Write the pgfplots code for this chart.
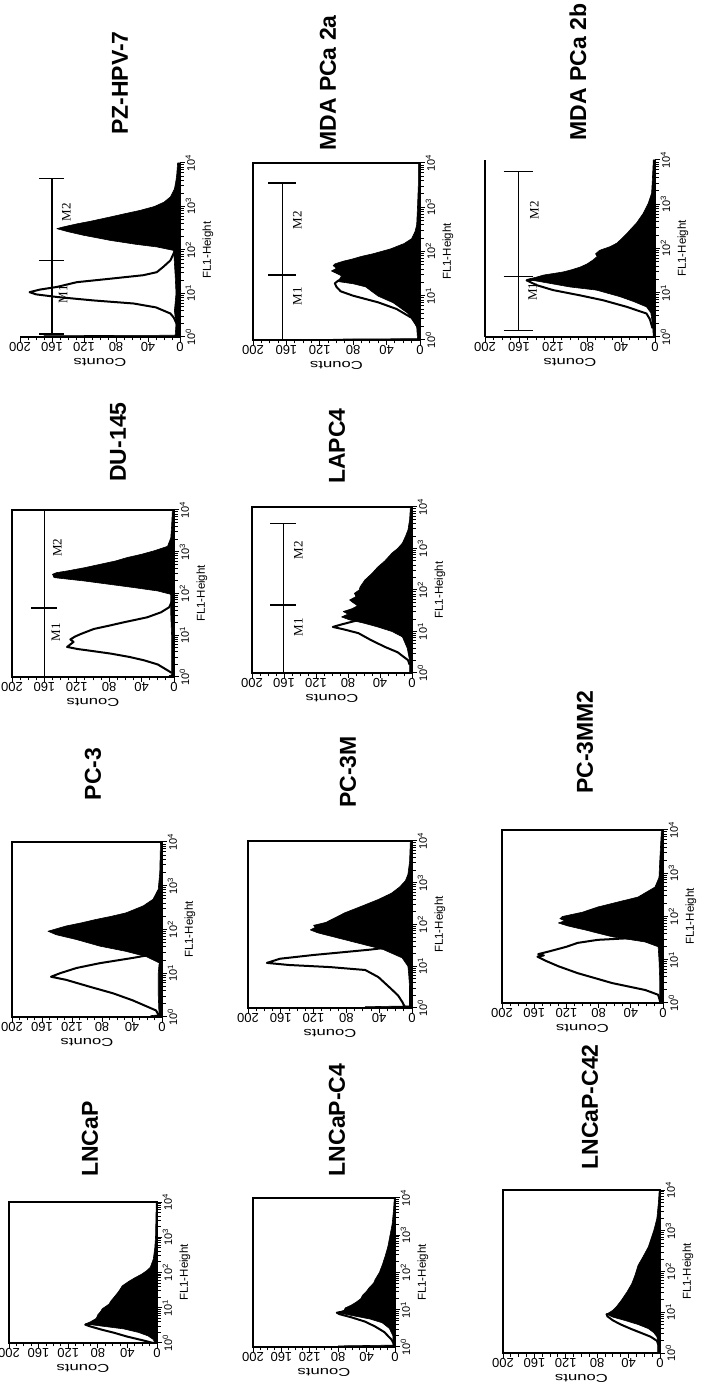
\documentclass[border=0pt]{standalone}
\usepackage{fontspec}
\setmainfont{Liberation Sans}
\newfontfamily\mfont{Liberation Serif}
\usepackage{pgfplots}
\pgfplotsset{compat=1.18}
\pgfplotsset{
  facs/.style={
    scale only axis,
    xmin=-200, xmax=0, ymin=0, ymax=4,
    xtick={-200,-160,-120,-80,-40,0},
    xticklabels={200,160,120,80,40,0},
    minor x tick num=3,
    ytick={0,1,2,3,4},
    yticklabels={10\textsuperscript{0},10\textsuperscript{1},10\textsuperscript{2},10\textsuperscript{3},10\textsuperscript{4}},
    minor ytick={0.301,0.477,0.602,0.699,0.778,0.845,0.903,0.954,
      1.301,1.477,1.602,1.699,1.778,1.845,1.903,1.954,
      2.301,2.477,2.602,2.699,2.778,2.845,2.903,2.954,
      3.301,3.477,3.602,3.699,3.778,3.845,3.903,3.954},
    xtick pos=left, ytick pos=right,
    tick align=outside,
    major tick length=5pt, minor tick length=3.5pt,
    every tick/.style={black, line width=1pt},
    axis line style={-, line width=1.6pt},
    x tick label style={rotate=180, anchor=south, font=\fontsize{13}{13}\selectfont, inner sep=0.5pt},
    y tick label style={rotate=90, anchor=north, font=\fontsize{11}{11}\selectfont, inner sep=0.5pt},
    clip=false,
  },
  test/.style={fill=black, draw=black, line width=0.6pt, mark=none, line join=round},
  ctrl/.style={draw=black, line width=2pt, mark=none, line join=round},
  mline/.style={black, line width=1.3pt, mark=none},
}
\newcommand{\axlabels}{%
  \node[rotate=180, xscale=1.45, font=\fontsize{11.5}{11.5}\selectfont] at ([yshift=-25pt]axis description cs:0.5,0) {Counts};
  \node[rotate=90, font=\fontsize{11.5}{11.5}\selectfont] at ([xshift=28pt]axis description cs:1,0.5) {FL1-Height};
}
\newcommand{\ttl}[3]{\node[rotate=90, font=\bfseries\fontsize{23}{23}\selectfont] at (#1pt,#2pt) {#3};}

\begin{document}
\begin{tikzpicture}[x=1pt,y=1pt]
\path[use as bounding box, fill=white] (0pt,0pt) rectangle (705pt,1384pt);

% ---------------- titles ----------------
\ttl{120}{1301}{PZ-HPV-7}
\ttl{328}{1301}{MDA PCa 2a}
\ttl{578}{1312}{MDA PCa 2b}
\ttl{118}{942}{DU-145}
\ttl{337}{938}{LAPC4}
\ttl{93}{610}{PC-3}
\ttl{348}{612}{PC-3M}
\ttl{585}{642}{PC-3MM2}
\ttl{90}{245}{LNCaP}
\ttl{337}{264}{LNCaP-C4}
\ttl{590}{277}{LNCaP-C42}

% ---------------- PZ-HPV-7 ----------------
\begin{axis}[facs, at={(20pt,1047pt)}, anchor=south west, width=160pt, height=174pt,
  axis x line*=bottom, axis y line*=right]
\addplot[test] table[x expr=-\thisrow{c}, y=l, row sep=\\]{c l\\ 0 0\\ 170 0\\ 170 0.03\\ 6 0.04\\ 5 0.3\\ 7 0.6\\ 5 1.0\\ 6 1.4\\ 7 1.7\\ 8 1.99\\ 29 2.07\\ 55 2.13\\ 87 2.22\\ 121 2.34\\ 140 2.42\\ 154 2.49\\ 146 2.53\\ 129 2.6\\ 112 2.66\\ 87 2.76\\ 70 2.83\\ 50 2.91\\ 32 3.0\\ 20 3.1\\ 12 3.22\\ 7 3.4\\ 5 3.6\\ 4 3.75\\ 3 4.0\\ 0 4.0\\};
\addplot[ctrl] table[x expr=-\thisrow{c}, y=l, row sep=\\]{c l\\ 3 0.0\\ 4 0.3\\ 8 0.45\\ 12 0.54\\ 30 0.68\\ 58 0.77\\ 108 0.84\\ 154 0.92\\ 180 0.98\\ 188 1.03\\ 175 1.09\\ 154 1.15\\ 129 1.26\\ 87 1.34\\ 46 1.42\\ 29 1.49\\ 21 1.61\\ 12 1.76\\ 8 1.92\\ 4 2.05\\ 2 2.3\\};
\addplot[mline] coordinates {(-160,0.07) (-160,3.64)};
\addplot[mline] coordinates {(-176,3.64) (-145,3.64)};
\addplot[mline] coordinates {(-176,1.76) (-145,1.76)};
\addplot[mline] coordinates {(-176,0.07) (-145,0.07)};
\node[rotate=90, font=\mfont\fontsize{13}{13}\selectfont] at (axis cs:-146,0.98) {M1};
\node[rotate=90, font=\mfont\fontsize{13}{13}\selectfont] at (axis cs:-142,2.87) {M2};
\axlabels
\end{axis}

% ---------------- MDA PCa 2a ----------------
\begin{axis}[facs, at={(253pt,1044pt)}, anchor=south west, width=167pt, height=177pt]
\addplot[test] table[x expr=-\thisrow{c}, y=l, row sep=\\]{c l\\ 0 0\\ 104 0\\ 104 0.02\\ 3 0.03\\ 4 0.3\\ 8 0.45\\ 15 0.61\\ 32 0.84\\ 50 0.99\\ 58 1.1\\ 65 1.2\\ 80 1.27\\ 98 1.32\\ 94 1.45\\ 106 1.56\\ 100 1.62\\ 104 1.68\\ 102 1.72\\ 92 1.78\\ 81 1.83\\ 70 1.89\\ 56 1.95\\ 35 2.06\\ 19 2.18\\ 10 2.29\\ 6 2.45\\ 4 2.6\\ 3 3.0\\ 2 3.5\\ 2 4\\ 0 4\\};
\addplot[ctrl] table[x expr=-\thisrow{c}, y=l, row sep=\\]{c l\\ 3 0.3\\ 10 0.5\\ 28 0.7\\ 50 0.85\\ 80 1.0\\ 95 1.1\\ 100 1.2\\ 102 1.28\\ 98 1.34\\ 90 1.42\\ 78 1.5\\ 60 1.6\\ 40 1.7\\ 25 1.8\\ 12 1.9\\ 5 2.0\\ 2 2.2\\};
\addplot[mline] coordinates {(-165,0) (-165,3.55)};
\addplot[mline] coordinates {(-182,3.55) (-148,3.55)};
\addplot[mline] coordinates {(-182,1.47) (-148,1.47)};
\node[rotate=90, font=\mfont\fontsize{13}{13}\selectfont] at (axis cs:-147,0.99) {M1};
\node[rotate=90, font=\mfont\fontsize{13}{13}\selectfont] at (axis cs:-147,2.71) {M2};
\axlabels
\end{axis}

% ---------------- MDA PCa 2b ----------------
\begin{axis}[facs, at={(485pt,1047pt)}, anchor=south west, width=170pt, height=177pt,
  axis x line*=bottom, axis y line*=right]
\draw[line width=1.6pt] (axis cs:-200,0) -- (axis cs:-200,4);
\addplot[test] table[x expr=-\thisrow{c}, y=l, row sep=\\]{c l\\ 0 0\\ 2 0.0\\ 3 0.3\\ 5 0.55\\ 10 0.68\\ 25 0.8\\ 41 0.91\\ 69 1.06\\ 100 1.13\\ 135 1.25\\ 151 1.30\\ 140 1.35\\ 131 1.40\\ 108 1.47\\ 98 1.52\\ 88 1.58\\ 80 1.65\\ 73 1.74\\ 68 1.82\\ 70 1.88\\ 65 1.96\\ 53 2.04\\ 45 2.12\\ 41 2.19\\ 33 2.34\\ 28 2.45\\ 22 2.57\\ 14 2.79\\ 8 3.02\\ 4 3.25\\ 3 3.6\\ 2 4\\ 0 4\\};
\addplot[ctrl] table[x expr=-\thisrow{c}, y=l, row sep=\\]{c l\\ 3 0.2\\ 6 0.4\\ 10 0.53\\ 33 0.68\\ 61 0.83\\ 88 0.94\\ 120 1.06\\ 139 1.17\\ 151 1.28\\ 120 1.35\\ 80 1.42\\ 45 1.5\\ 20 1.6\\ 8 1.75\\ 3 1.9\\};
\addplot[mline] coordinates {(-161,0.15) (-161,3.74)};
\addplot[mline] coordinates {(-178,3.74) (-144,3.74)};
\addplot[mline] coordinates {(-178,1.36) (-144,1.36)};
\addplot[mline] coordinates {(-178,0.15) (-144,0.15)};
\node[rotate=90, font=\mfont\fontsize{13}{13}\selectfont] at (axis cs:-144,1.02) {M1};
\node[rotate=90, font=\mfont\fontsize{13}{13}\selectfont] at (axis cs:-142,2.87) {M2};
\axlabels
\end{axis}

% ---------------- DU-145 ----------------
\begin{axis}[facs, at={(12pt,707pt)}, anchor=south west, width=162pt, height=167pt]
\addplot[test] table[x expr=-\thisrow{c}, y=l, row sep=\\]{c l\\ 0 0\\ 6 0.0\\ 6 0.03\\ 3 0.05\\ 3 1.0\\ 4 1.5\\ 4 1.98\\ 20 2.06\\ 49 2.14\\ 80 2.22\\ 111 2.3\\ 148 2.38\\ 150 2.46\\ 145 2.5\\ 132 2.54\\ 110 2.62\\ 91 2.7\\ 72 2.78\\ 58 2.86\\ 40 2.94\\ 25 3.02\\ 8 3.13\\ 4 3.33\\ 3 3.6\\ 2 4\\ 0 4\\};
\addplot[ctrl] table[x expr=-\thisrow{c}, y=l, row sep=\\]{c l\\ 3 0.1\\ 8 0.16\\ 20 0.3\\ 37 0.4\\ 55 0.48\\ 78 0.56\\ 100 0.62\\ 119 0.67\\ 132 0.72\\ 128 0.78\\ 124 0.84\\ 128 0.9\\ 122 0.97\\ 115 1.03\\ 99 1.15\\ 80 1.23\\ 62 1.31\\ 45 1.38\\ 33 1.43\\ 16 1.55\\ 6 1.67\\ 2 1.83\\ 1 2.0\\};
\addplot[mline] coordinates {(-160,0) (-160,4)};
\addplot[mline] coordinates {(-176,1.65) (-145,1.65)};
\node[rotate=90, font=\mfont\fontsize{13}{13}\selectfont] at (axis cs:-146,1.07) {M1};
\node[rotate=90, font=\mfont\fontsize{13}{13}\selectfont] at (axis cs:-144,3.1) {M2};
\axlabels
\end{axis}

% ---------------- LAPC4 ----------------
\begin{axis}[facs, at={(252pt,711pt)}, anchor=south west, width=160pt, height=166pt]
\addplot[test] table[x expr=-\thisrow{c}, y=l, row sep=\\]{c l\\ 0 0\\ 3 0.0\\ 3 0.3\\ 6 0.6\\ 12 0.87\\ 25 1.0\\ 43 1.11\\ 60 1.2\\ 78 1.28\\ 88 1.35\\ 80 1.42\\ 86 1.48\\ 75 1.55\\ 68 1.62\\ 74 1.7\\ 78 1.76\\ 70 1.84\\ 72 1.92\\ 66 2.0\\ 65 2.07\\ 59 2.24\\ 50 2.4\\ 43 2.55\\ 34 2.7\\ 25 2.89\\ 18 3.0\\ 12 3.13\\ 8 3.3\\ 5 3.45\\ 3 3.7\\ 2 4\\ 0 4\\};
\addplot[ctrl] table[x expr=-\thisrow{c}, y=l, row sep=\\]{c l\\ 3 0.2\\ 5 0.31\\ 18 0.5\\ 34 0.63\\ 52 0.8\\ 67 0.96\\ 85 1.05\\ 99 1.11\\ 88 1.17\\ 72 1.25\\ 58 1.35\\ 40 1.48\\ 20 1.65\\ 8 1.85\\ 3 2.0\\};
\addplot[mline] coordinates {(-161,0) (-161,3.61)};
\addplot[mline] coordinates {(-177,3.61) (-145,3.61)};
\addplot[mline] coordinates {(-177,1.64) (-145,1.64)};
\node[rotate=90, font=\mfont\fontsize{13}{13}\selectfont] at (axis cs:-142,1.1) {M1};
\node[rotate=90, font=\mfont\fontsize{13}{13}\selectfont] at (axis cs:-142,2.96) {M2};
\axlabels
\end{axis}

% ---------------- PC-3 ----------------
\begin{axis}[facs, at={(12pt,367pt)}, anchor=south west, width=150pt, height=175pt]
\addplot[test] table[x expr=-\thisrow{c}, y=l, row sep=\\]{c l\\ 0 0\\ 15 0\\ 15 0.03\\ 4 0.05\\ 5 0.5\\ 5 1.0\\ 4 1.2\\ 3 1.23\\ 21 1.38\\ 48 1.5\\ 83 1.62\\ 114 1.77\\ 141 1.88\\ 152 1.96\\ 140 2.02\\ 128 2.08\\ 108 2.15\\ 88 2.23\\ 68 2.3\\ 48 2.38\\ 25 2.54\\ 12 2.69\\ 5 2.92\\ 3 3.3\\ 2 4\\ 0 4\\};
\addplot[ctrl] table[x expr=-\thisrow{c}, y=l, row sep=\\]{c l\\ 3 0.0\\ 8 0.15\\ 39 0.38\\ 65 0.54\\ 96 0.69\\ 128 0.85\\ 148 0.92\\ 136 1.0\\ 114 1.12\\ 83 1.23\\ 39 1.35\\ 16 1.42\\ 8 1.54\\ 3 1.69\\ 1 1.9\\};
\axlabels
\end{axis}

% ---------------- PC-3M ----------------
\begin{axis}[facs, at={(248pt,376pt)}, anchor=south west, width=164pt, height=167pt]
\addplot[test] table[x expr=-\thisrow{c}, y=l, row sep=\\]{c l\\ 0 0\\ 57 0\\ 57 0.03\\ 3 0.05\\ 3 0.5\\ 4 0.8\\ 5 1.0\\ 12 1.2\\ 35 1.4\\ 65 1.55\\ 95 1.7\\ 115 1.8\\ 124 1.87\\ 118 1.93\\ 120 1.98\\ 105 2.05\\ 95 2.15\\ 82 2.28\\ 60 2.45\\ 41 2.6\\ 25 2.75\\ 15 2.9\\ 8 3.05\\ 5 3.2\\ 3 3.5\\ 2 4\\ 0 4\\};
\addplot[ctrl] table[x expr=-\thisrow{c}, y=l, row sep=\\]{c l\\ 8 0.0\\ 12 0.15\\ 17 0.3\\ 25 0.45\\ 41 0.74\\ 57 0.91\\ 100 0.98\\ 150 1.03\\ 177 1.08\\ 161 1.18\\ 120 1.27\\ 82 1.34\\ 50 1.4\\ 25 1.46\\ 12 1.52\\ 5 1.6\\ 2 1.7\\};
\axlabels
\end{axis}

% ---------------- PC-3MM2 ----------------
\begin{axis}[facs, at={(502pt,381pt)}, anchor=south west, width=161pt, height=173pt]
\addplot[test] table[x expr=-\thisrow{c}, y=l, row sep=\\]{c l\\ 0 0\\ 4 0.0\\ 4 0.5\\ 5 1.0\\ 6 1.3\\ 22 1.41\\ 63 1.53\\ 97 1.69\\ 118 1.78\\ 130 1.85\\ 122 1.9\\ 128 1.95\\ 125 2.0\\ 100 2.1\\ 81 2.22\\ 55 2.34\\ 31 2.45\\ 10 2.68\\ 5 2.9\\ 4 3.3\\ 2 4\\ 0 4\\};
\addplot[ctrl] table[x expr=-\thisrow{c}, y=l, row sep=\\]{c l\\ 3 0.0\\ 6 0.19\\ 22 0.3\\ 63 0.46\\ 106 0.69\\ 130 0.85\\ 145 0.97\\ 156 1.07\\ 148 1.1\\ 155 1.13\\ 140 1.2\\ 120 1.3\\ 106 1.39\\ 81 1.46\\ 40 1.5\\ 20 1.55\\ 8 1.6\\ 3 1.7\\};
\axlabels
\end{axis}

% ---------------- LNCaP ----------------
\begin{axis}[facs, at={(9pt,41pt)}, anchor=south west, width=148pt, height=141pt]
\addplot[test] table[x expr=-\thisrow{c}, y=l, row sep=\\]{c l\\ 0 0\\ 3 0.0\\ 5 0.1\\ 12 0.2\\ 25 0.3\\ 45 0.4\\ 75 0.48\\ 97 0.54\\ 90 0.6\\ 82 0.7\\ 80 0.8\\ 76 0.9\\ 74 0.97\\ 65 1.1\\ 62 1.2\\ 58 1.3\\ 53 1.43\\ 50 1.52\\ 47 1.62\\ 38 1.75\\ 30 1.85\\ 21 1.95\\ 14 2.05\\ 9 2.15\\ 5 2.38\\ 3 2.7\\ 2 3.0\\ 1 4\\ 0 4\\};
\addplot[ctrl] table[x expr=-\thisrow{c}, y=l, row sep=\\]{c l\\ 5 0.0\\ 20 0.08\\ 40 0.18\\ 58 0.29\\ 75 0.38\\ 90 0.47\\ 97 0.52\\ 72 0.6\\ 45 0.68\\ 25 0.76\\ 10 0.86\\ 3 1.0\\};
\axlabels
\end{axis}

% ---------------- LNCaP-C4 ----------------
\begin{axis}[facs, at={(253pt,37pt)}, anchor=south west, width=142pt, height=149pt]
\addplot[test] table[x expr=-\thisrow{c}, y=l, row sep=\\]{c l\\ 0 0\\ 80 0\\ 80 0.03\\ 3 0.05\\ 3 0.3\\ 8 0.5\\ 18 0.65\\ 35 0.75\\ 62 0.85\\ 82 0.92\\ 72 0.98\\ 70 1.05\\ 62 1.12\\ 55 1.2\\ 48 1.3\\ 46 1.38\\ 40 1.5\\ 36 1.6\\ 30 1.72\\ 28 1.81\\ 22 2.0\\ 18 2.2\\ 14 2.43\\ 10 2.7\\ 7 3.0\\ 4 3.3\\ 2 3.7\\ 1 4\\ 0 4\\};
\addplot[ctrl] table[x expr=-\thisrow{c}, y=l, row sep=\\]{c l\\ 2 0.1\\ 5 0.2\\ 15 0.4\\ 28 0.55\\ 42 0.68\\ 62 0.8\\ 78 0.88\\ 82 0.92\\ 60 1.0\\ 30 1.1\\ 12 1.2\\ 4 1.3\\};
\axlabels
\end{axis}

% ---------------- LNCaP-C42 ----------------
\begin{axis}[facs, at={(503pt,31pt)}, anchor=south west, width=157pt, height=163pt]
\addplot[test] table[x expr=-\thisrow{c}, y=l, row sep=\\]{c l\\ 0 0\\ 3 0.0\\ 3 0.3\\ 4 0.4\\ 8 0.5\\ 15 0.6\\ 28 0.7\\ 45 0.8\\ 60 0.88\\ 68 0.95\\ 60 1.05\\ 55 1.15\\ 49 1.3\\ 42 1.5\\ 36 1.7\\ 32 1.9\\ 28 2.15\\ 22 2.35\\ 15 2.6\\ 8 3.0\\ 4 3.3\\ 2 3.7\\ 1 4\\ 0 4\\};
\addplot[ctrl] table[x expr=-\thisrow{c}, y=l, row sep=\\]{c l\\ 2 0.2\\ 4 0.3\\ 12 0.4\\ 25 0.5\\ 38 0.6\\ 50 0.7\\ 60 0.8\\ 67 0.9\\ 68 0.95\\ 50 1.02\\ 30 1.1\\ 12 1.2\\ 4 1.3\\};
\axlabels
\end{axis}
\end{tikzpicture}
\end{document}
